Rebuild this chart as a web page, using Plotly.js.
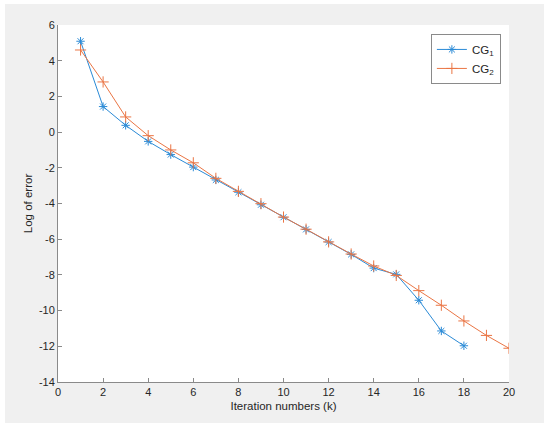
<!DOCTYPE html>
<html>
<head>
<meta charset="utf-8">
<script src="https://cdn.plot.ly/plotly-3.0.1.min.js"></script>
<style>
  html, body { margin:0; padding:0; background:#ffffff; }
  #chart { position:absolute; left:5px; top:4px; width:539px; height:419px; }
</style>
</head>
<body>
<div id="chart"></div>
<script>
// iteration numbers and log of error
const iterCG1 = [1,2,3,4,5,6,7,8,9,10,11,12,13,14,15,16,17,18];
const errCG1  = [5.09,1.43,0.38,-0.52,-1.26,-1.96,-2.68,-3.37,-4.07,-4.77,-5.45,-6.16,-6.85,-7.62,-7.97,-9.42,-11.14,-11.97];

const iterCG2 = [1,2,3,4,5,6,7,8,9,10,11,12,13,14,15,16,17,18,19,20];
const errCG2  = [4.6,2.81,0.85,-0.2,-1.0,-1.72,-2.59,-3.32,-4.01,-4.76,-5.44,-6.15,-6.83,-7.5,-8.03,-8.88,-9.7,-10.58,-11.39,-12.11];

const xTicks = [0,2,4,6,8,10,12,14,16,18,20];
const yTicks = [-14,-12,-10,-8,-6,-4,-2,0,2,4,6];

const BLUE = '#2a8ad6', ORANGE = '#ea7544';
const FONT = { family:'Liberation Sans, Arial, sans-serif', color:'#262626', size:11 };
const TITLE_FONT = { ...FONT, size:11.5 };

const axisBase = {
  showgrid:false, zeroline:false, showline:true, linecolor:'#8a8a8a', linewidth:1,
  ticks:'inside', ticklen:4, tickcolor:'#8a8a8a', tickfont:FONT, mirror:false,
};

Plotly.newPlot('chart', [
  {
    x: iterCG1, y: errCG1, mode:'lines+markers', name:'CG<sub>1</sub>',
    line:{ color:BLUE, width:1 },
    marker:{ symbol:'asterisk-open', size:7, color:BLUE, line:{ color:BLUE, width:1 } },
  },
  {
    x: iterCG2, y: errCG2, mode:'lines+markers', name:'CG<sub>2</sub>',
    line:{ color:ORANGE, width:1 },
    marker:{ symbol:'cross-thin-open', size:8, color:ORANGE, line:{ color:ORANGE, width:1 } },
  },
], {
  width:539, height:419,
  paper_bgcolor:'#f0f0f0', plot_bgcolor:'#ffffff',
  font: FONT,
  margin:{ l:53, r:35, t:21, b:41 },
  showlegend:true,
  legend:{
    x:0.982, y:0.975, xanchor:'right', yanchor:'top',
    bgcolor:'#ffffff', bordercolor:'#8a8a8a', borderwidth:1,
    font:{ family:'Liberation Sans, Arial, sans-serif', size:11.5, color:'#262626' },
    tracegroupgap:0, itemwidth:30,
  },
  xaxis:{ ...axisBase, range:[0,20], tickvals:xTicks, ticktext:xTicks.map(String),
    title:{ text:'Iteration numbers (k)', font:TITLE_FONT, standoff:4 } },
  yaxis:{ ...axisBase, range:[-14,6], tickvals:yTicks, ticktext:yTicks.map(String),
    title:{ text:'Log of error', font:TITLE_FONT, standoff:3 } },
}, { displayModeBar:false, staticPlot:true });
</script>
</body>
</html>
